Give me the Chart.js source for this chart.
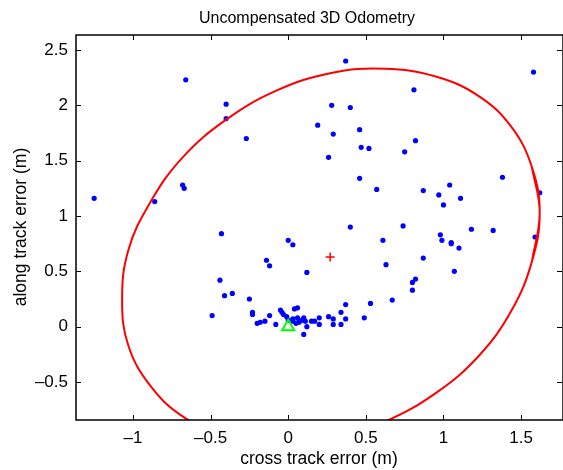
<!DOCTYPE html>
<html>
<head>
<meta charset="utf-8">
<script src="https://cdn.jsdelivr.net/npm/chart.js@4/dist/chart.umd.min.js"></script>
<style>
  html, body { margin: 0; padding: 0; background: #fff; }
</style>
</head>
<body>
<canvas id="chart" width="563" height="470"></canvas>
<script>
// odometry end positions (m)
const odomX = [
  -1.25, -0.86, -0.66, -0.68, -0.67, -0.40, -0.40, -0.27, 0.37, 1.58,
  0.81, 0.28, 0.40, 0.19, 0.29, 0.46, 0.47, 0.52, 0.75, 0.82,
  0.26, 0.46, 0.57, 0.87, 0.97, 1.04, 1.00, 1.11, 1.38, 1.62,
  0.40, 0.74, 1.18, 1.32, 1.59, 0.98, 0.99, 1.05, 1.05, 1.10,
  0.61, 0.63, 0.87, 1.07, 0.12, 0.80, 0.82, 0.80, 0.67, 0.53,
  0.37, 0.34, 0.49, 0.37, 0.34, 0.26, 0.29, 0.29, 0.20, 0.20,
  0.17, 0.15, 0.12, 0.10, 0.11, 0.10, -0.43, 0.00, 0.03, -0.14,
  -0.12, -0.44, -0.36, -0.41, -0.25, -0.49, -0.23, -0.23, -0.12, -0.20,
  -0.18, -0.15, -0.08, -0.05, -0.04, -0.03, 0.04, 0.06, -0.01, 0.03,
  0.06, 0.07, 0.05, 0.07, 0.09, 0.03, 0.00
];
const odomY = [
  1.16, 1.13, 2.23, 1.28, 1.25, 2.01, 1.88, 1.70, 2.40, 2.30,
  2.14, 2.00, 1.98, 1.82, 1.74, 1.78, 1.62, 1.61, 1.58, 1.68,
  1.53, 1.34, 1.24, 1.23, 1.19, 1.28, 1.10, 1.16, 1.35, 1.21,
  0.90, 0.91, 0.88, 0.87, 0.81, 0.83, 0.78, 0.76, 0.75, 0.71,
  0.78, 0.56, 0.62, 0.50, 0.49, 0.40, 0.43, 0.33, 0.24, 0.21,
  0.20, 0.13, 0.08, 0.07, 0.02, 0.09, 0.07, 0.02, 0.08, 0.02,
  0.05, 0.05, 0.00, 0.08, 0.05, -0.07, 0.84, 0.78, 0.74, 0.60,
  0.55, 0.42, 0.30, 0.28, 0.25, 0.10, 0.13, 0.11, 0.10, 0.03,
  0.04, 0.05, 0.02, 0.15, 0.13, 0.11, 0.16, 0.17, 0.09, 0.07,
  0.08, 0.05, 0.03, 0.04, 0.06, 0.05, 0.06
];

// mean error and start position
const meanX = [0.27];
const meanY = [0.63];
const startX = [0];
const startY = [0];

// error ellipse, points (loop overlaps a little at the ends)
const ellipseX = [1.57, 1.62, 1.57, 1.44, 1.23, 0.95, 0.62, 0.27, -0.08, -0.40, -0.68, -0.89,
  -1.03, -1.07, -1.03, -0.89, -0.68, -0.40, -0.08, 0.27, 0.62, 0.95, 1.23, 1.44, 1.57, 1.62, 1.57];
const ellipseY = [0.59, 1.03, 1.44, 1.80, 2.08, 2.26, 2.33, 2.29, 2.13, 1.87, 1.53, 1.12,
  0.69, 0.24, -0.17, -0.53, -0.81, -0.99, -1.06, -1.02, -0.86, -0.60, -0.26, 0.15, 0.59, 1.03, 1.44];

const FONT = '"Liberation Sans", Arial, Helvetica, sans-serif';
const toPoints = (xs, ys) => xs.map((x, i) => ({ x, y: ys[i] }));
const fmt = (v) => (v < 0 ? '\u2013' + Math.abs(v) : String(v));

// matlab style box: inward ticks on every side plus title / axis labels
const matlabFrame = {
  id: 'matlabFrame',
  afterDraw(chart) {
    const { ctx, chartArea: a } = chart;
    const { x, y } = chart.scales;
    ctx.save();
    ctx.strokeStyle = '#000';
    ctx.lineWidth = 1;
    ctx.beginPath();
    x.ticks.forEach((t) => {
      const px = Math.round(x.getPixelForValue(t.value)) + 0.5;
      ctx.moveTo(px, a.bottom); ctx.lineTo(px, a.bottom - 5);
      ctx.moveTo(px, a.top); ctx.lineTo(px, a.top + 5);
    });
    y.ticks.forEach((t) => {
      const py = Math.round(y.getPixelForValue(t.value)) + 0.5;
      ctx.moveTo(a.left, py); ctx.lineTo(a.left + 5, py);
      ctx.moveTo(a.right - 1, py); ctx.lineTo(a.right - 6, py);
    });
    ctx.stroke();
    ctx.lineWidth = 1.5;
    ctx.strokeRect(a.left, a.top, a.right - a.left, a.bottom - a.top);

    ctx.fillStyle = '#000';
    ctx.textAlign = 'center';
    ctx.textBaseline = 'alphabetic';
    ctx.font = '16px ' + FONT;
    ctx.fillText('Uncompensated 3D Odometry', 307, 23);
    ctx.font = '17.5px ' + FONT;
    ctx.textBaseline = 'middle';
    ctx.fillText('cross track error (m)', 319, 459);
    ctx.translate(21, 227);
    ctx.rotate(-Math.PI / 2);
    ctx.fillText('along track error (m)', 0, 0);
    ctx.restore();
  }
};

new Chart(document.getElementById('chart'), {
  type: 'scatter',
  data: {
    datasets: [
      {
        label: 'start',
        data: toPoints(startX, startY),
        pointStyle: 'triangle',
        pointRadius: 7,
        borderColor: '#00ff00',
        backgroundColor: 'rgba(0,0,0,0)',
        borderWidth: 2,
        order: 0
      },
      {
        label: 'mean',
        data: toPoints(meanX, meanY),
        pointStyle: 'cross',
        pointRadius: 4.5,
        borderColor: '#ff0000',
        borderWidth: 1.5,
        order: 1
      },
      {
        label: 'ellipse',
        data: toPoints(ellipseX, ellipseY),
        showLine: true,
        tension: 0.4,
        borderColor: '#ff0000',
        borderWidth: 2,
        pointRadius: 0,
        fill: false,
        order: 2
      },
      {
        label: 'odometry',
        data: toPoints(odomX, odomY),
        pointRadius: 2.6,
        borderWidth: 0,
        backgroundColor: '#0000ff',
        order: 3
      }
    ]
  },
  options: {
    responsive: false,
    animation: false,
    events: [],
    layout: { autoPadding: false, padding: { top: 35, left: 0, right: 0, bottom: 0 } },
    plugins: {
      legend: { display: false },
      tooltip: { enabled: false },
      title: { display: false }
    },
    scales: {
      x: {
        type: 'linear',
        min: -1.367,
        max: 1.77,
        grid: { display: false, drawTicks: false },
        border: { display: false },
        afterFit(s) { s.height = 50; s.paddingLeft = 0; s.paddingRight = 0; },
        ticks: {
          stepSize: 0.5,
          includeBounds: false,
          maxRotation: 0,
          padding: 8,
          color: '#000',
          font: { family: FONT, size: 17 },
          callback: fmt
        }
      },
      y: {
        type: 'linear',
        min: -0.843,
        max: 2.635,
        grid: { display: false, drawTicks: false },
        border: { display: false },
        afterFit(s) { s.width = 76; s.paddingTop = 0; s.paddingBottom = 0; },
        ticks: {
          stepSize: 0.5,
          includeBounds: false,
          padding: 8,
          color: '#000',
          font: { family: FONT, size: 17 },
          callback: fmt
        }
      }
    }
  },
  plugins: [matlabFrame]
});
</script>
</body>
</html>
